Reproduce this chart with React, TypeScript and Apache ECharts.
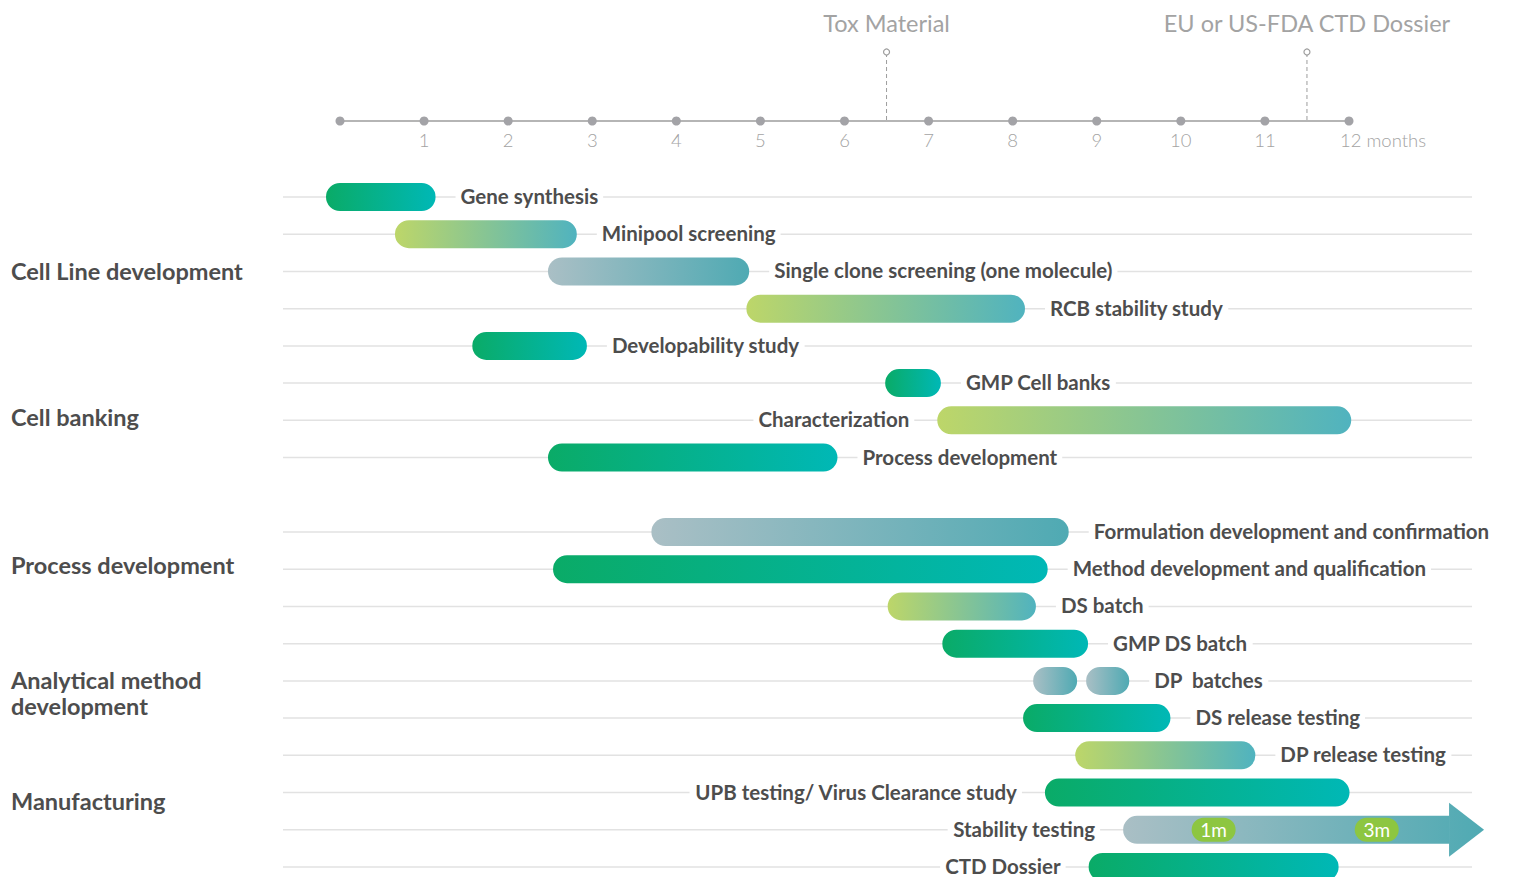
import React, { useEffect, useRef } from "react";
import * as echarts from "echarts";

// ---------- data ----------
const months = [0, 1, 2, 3, 4, 5, 6, 7, 8, 9, 10, 11, 12];
const tickLabels = ["", "1", "2", "3", "4", "5", "6", "7", "8", "9", "10", "11", "12 months"];

const milestoneNames = ["Tox Material", "EU or US-FDA CTD Dossier"];
const milestoneMonths = [6.5, 11.5];

const groupNames = [
  "Cell Line development",
  "Cell banking",
  "Process development",
  "Analytical method\ndevelopment",
  "Manufacturing",
];
const groupRows = [2, 5.9, 9.88, 13.33, 16.22];

const rowNames = [
  "Gene synthesis",
  "Minipool screening",
  "Single clone screening (one molecule)",
  "RCB stability study",
  "Developability study",
  "GMP Cell banks",
  "Characterization",
  "Process development",
  "",
  "Formulation development and confirmation",
  "Method development and qualification",
  "DS batch",
  "GMP DS batch",
  "DP  batches",
  "DS release testing",
  "DP release testing",
  "UPB testing/ Virus Clearance study",
  "Stability testing",
  "CTD Dossier",
];

const taskNames = [
  "Gene synthesis",
  "Minipool screening",
  "Single clone screening (one molecule)",
  "RCB stability study",
  "Developability study",
  "GMP Cell banks",
  "Characterization",
  "Process development",
  "Formulation development and confirmation",
  "Method development and qualification",
  "DS batch",
  "GMP DS batch",
  "DP  batches",
  "DS release testing",
  "DP release testing",
  "UPB testing/ Virus Clearance study",
  "CTD Dossier",
];
const taskSpans: number[][][] = [
  [[0, 0.97]],
  [[0.82, 2.65]],
  [[2.64, 4.7]],
  [[5.0, 7.98]],
  [[1.74, 2.77]],
  [[6.65, 6.98]],
  [[7.27, 11.86]],
  [[2.64, 5.75]],
  [[3.87, 8.5]],
  [[2.7, 8.25]],
  [[6.68, 8.11]],
  [[7.33, 8.73]],
  [[8.41, 8.6], [9.04, 9.22]],
  [[8.29, 9.71]],
  [[8.91, 10.72]],
  [[8.55, 11.84]],
  [[9.07, 11.71]],
];
const taskKinds = [
  "green", "lime", "grey", "lime", "green", "green", "lime", "green",
  "grey", "green", "lime", "green", "grey", "green", "lime", "green", "green",
];
const taskLabelSides = [
  "right", "right", "right", "right", "right", "right", "left", "right",
  "right", "right", "right", "right", "right", "right", "right", "left", "left",
];

const stabilityName = "Stability testing";
const stabilitySpan = [9.48, 13.19];
const stabilityMarks = ["1m", "3m"];
const stabilityMarkMonths = [10.39, 12.33];

// ---------- styles ----------
const FONT = "Lato, 'Noto Sans', sans-serif";
const TEXT = "#4d4d4d";
const GRID_LINE = "#e2e2e2";
const KIND_COLORS: Record<string, [string, string]> = {
  green: ["#0aab67", "#00b8b6"],
  lime: ["#bdd669", "#50b3bf"],
  grey: ["#aabfc5", "#4faab3"],
};
const BAR_H = 28;
const CAP = 14;

// y pixel for a (possibly fractional) row on the category axis
function rowY(api: any, r: number) {
  const lo = Math.floor(r);
  const hi = Math.ceil(r);
  const y0 = api.coord([0, lo])[1];
  if (hi === lo) return y0;
  const y1 = api.coord([0, hi])[1];
  return y0 + (r - lo) * (y1 - y0);
}

function gridLine(api: any, row: number) {
  const y = api.coord([0, row])[1];
  const x0 = api.coord([0, row])[0];
  const x12 = api.coord([12, row])[0];
  return {
    type: "line",
    shape: { x1: x0 - 57, y1: y, x2: x12 + 123, y2: y },
    style: { stroke: GRID_LINE, lineWidth: 1.5 },
  };
}

function labelEl(text: string, x: number, y: number, side: string) {
  return {
    type: "text",
    x,
    y: y - 1,
    style: {
      text,
      fill: TEXT,
      fontFamily: FONT,
      fontSize: 20.5,
      fontWeight: 700,
      align: side === "left" ? "right" : "left",
      verticalAlign: "middle",
      backgroundColor: "#ffffff",
      padding: [1, 5],
    },
  };
}

function buildOption() {
  const taskRows = taskNames.map((n) => rowNames.indexOf(n));
  const stabilityRow = rowNames.indexOf(stabilityName);

  return {
    animation: false,
    backgroundColor: "#ffffff",
    grid: [
      { left: 340, right: 166, top: 197, height: 670 },
      { left: 340, right: 166, top: 52, height: 69 },
    ],
    xAxis: [
      { type: "value", gridIndex: 0, min: 0, max: 12, show: false },
      {
        type: "value",
        gridIndex: 1,
        min: 0,
        max: 12,
        interval: 1,
        axisLine: { show: true, lineStyle: { color: "#b5b5b5", width: 2 } },
        axisTick: { show: false },
        axisLabel: { show: false },
        splitLine: { show: false },
      },
    ],
    yAxis: [
      {
        type: "category",
        gridIndex: 0,
        data: rowNames,
        inverse: true,
        boundaryGap: false,
        show: false,
      },
      { type: "value", gridIndex: 1, min: 0, max: 1, show: false },
    ],
    series: [
      // timeline dots + tick labels
      {
        type: "scatter",
        xAxisIndex: 1,
        yAxisIndex: 1,
        symbolSize: 9,
        itemStyle: { color: "#a3a3a7", opacity: 1 },
        clip: false,
        data: months.map((m, i) => {
          const item: any = { value: [m, 0] };
          if (i === months.length - 1) {
            item.label = { align: "left", offset: [-9, 0] };
          }
          return item;
        }),
        label: {
          show: true,
          position: "bottom",
          distance: 5,
          formatter: (p: any) => tickLabels[p.dataIndex],
          color: "#a3a3a3",
          fontSize: 18.5,
          fontWeight: 300,
          fontFamily: FONT,
        },
        z: 3,
      },
      // milestones
      {
        type: "custom",
        xAxisIndex: 1,
        yAxisIndex: 1,
        clip: false,
        data: milestoneMonths.map((m) => [m, 0]),
        renderItem: (params: any, api: any) => {
          const i = params.dataIndex;
          const p = api.coord([milestoneMonths[i], 0]);
          return {
            type: "group",
            children: [
              {
                type: "line",
                shape: { x1: p[0], y1: p[1] - 1, x2: p[0], y2: p[1] - 66 },
                style: { stroke: "#9d9d9d", lineWidth: 1, lineDash: [4, 3] },
              },
              {
                type: "circle",
                shape: { cx: p[0], cy: p[1] - 69, r: 3 },
                style: { stroke: "#9d9d9d", fill: "#ffffff", lineWidth: 1.2 },
              },
              {
                type: "text",
                x: p[0],
                y: p[1] - 98,
                style: {
                  text: milestoneNames[i],
                  fill: "#a3a3a3",
                  fontFamily: FONT,
                  fontSize: 23.5,
                  fontWeight: 400,
                  align: "center",
                  verticalAlign: "middle",
                },
              },
            ],
          };
        },
        z: 2,
      },
      // group labels
      {
        type: "custom",
        xAxisIndex: 0,
        yAxisIndex: 0,
        clip: false,
        data: groupRows.map((r) => [0, r]),
        renderItem: (params: any, api: any) => {
          const i = params.dataIndex;
          const y = rowY(api, groupRows[i]);
          return {
            type: "text",
            x: 11,
            y,
            style: {
              text: groupNames[i],
              fill: TEXT,
              fontFamily: FONT,
              fontSize: 23.5,
              fontWeight: 700,
              lineHeight: 26,
              align: "left",
              verticalAlign: "middle",
            },
          };
        },
      },
      // tasks
      {
        type: "custom",
        xAxisIndex: 0,
        yAxisIndex: 0,
        clip: false,
        encode: { x: [0, 1], y: 2 },
        data: taskNames.map((n, i) => ({
          name: n,
          value: [taskSpans[i][0][0], taskSpans[i][taskSpans[i].length - 1][1], taskRows[i]],
        })),
        renderItem: (params: any, api: any) => {
          const i = params.dataIndex;
          const row = taskRows[i];
          const y = api.coord([0, row])[1];
          const cols = KIND_COLORS[taskKinds[i]];
          const children: any[] = [gridLine(api, row)];
          let first = 0;
          let last = 0;
          taskSpans[i].forEach(([s, e], k) => {
            const a = api.coord([s, row])[0] - CAP;
            const b = api.coord([e, row])[0] + CAP;
            if (k === 0) first = a;
            last = b;
            children.push({
              type: "rect",
              shape: { x: a, y: y - BAR_H / 2, width: b - a, height: BAR_H, r: CAP },
              style: {
                fill: new echarts.graphic.LinearGradient(0, 0, 1, 0, [
                  { offset: 0, color: cols[0] },
                  { offset: 1, color: cols[1] },
                ]),
              },
            });
          });
          const side = taskLabelSides[i];
          children.push(
            labelEl(taskNames[i], side === "left" ? first - 23 : last + 20, y, side)
          );
          return { type: "group", children };
        },
      },
      // stability arrow
      {
        type: "custom",
        xAxisIndex: 0,
        yAxisIndex: 0,
        clip: false,
        encode: { x: [0, 1], y: 2 },
        data: [{ name: stabilityName, value: [stabilitySpan[0], stabilitySpan[1], stabilityRow] }],
        renderItem: (params: any, api: any) => {
          const row = stabilityRow;
          const y = api.coord([0, row])[1];
          const a = api.coord([stabilitySpan[0], row])[0] - CAP;
          const b = api.coord([stabilitySpan[1], row])[0];
          const tip = b + 35;
          const grad = () =>
            new echarts.graphic.LinearGradient(
              a,
              0,
              tip,
              0,
              [
                { offset: 0, color: "#aabfc5" },
                { offset: 1, color: "#4faab3" },
              ],
              true
            );
          const children: any[] = [gridLine(api, row)];
          children.push({
            type: "rect",
            shape: { x: a, y: y - BAR_H / 2, width: b - a + 0.5, height: BAR_H, r: [CAP, 0, 0, CAP] },
            style: { fill: grad() },
          });
          children.push({
            type: "polygon",
            shape: { points: [[b, y - 27], [tip, y], [b, y + 27]] },
            style: { fill: grad() },
          });
          stabilityMarks.forEach((m, k) => {
            const cx = api.coord([stabilityMarkMonths[k], row])[0];
            children.push({
              type: "rect",
              shape: { x: cx - 22, y: y - 12, width: 44, height: 24, r: 12 },
              style: { fill: "#8dc641" },
            });
            children.push({
              type: "text",
              x: cx,
              y,
              style: {
                text: m,
                fill: "#ffffff",
                fontFamily: FONT,
                fontSize: 19,
                fontWeight: 400,
                align: "center",
                verticalAlign: "middle",
              },
            });
          });
          children.push(labelEl(stabilityName, a - 23, y, "left"));
          return { type: "group", children };
        },
      },
    ],
  };
}

export default function App() {
  const ref = useRef<HTMLDivElement>(null);
  useEffect(() => {
    if (!ref.current) return;
    const chart = echarts.init(ref.current, null, { renderer: "svg" });
    chart.setOption(buildOption() as any);
    return () => chart.dispose();
  }, []);
  return (
    <div
      ref={ref}
      style={{ position: "fixed", left: 0, top: 0, width: 1515, height: 877, background: "#fff" }}
    />
  );
}
